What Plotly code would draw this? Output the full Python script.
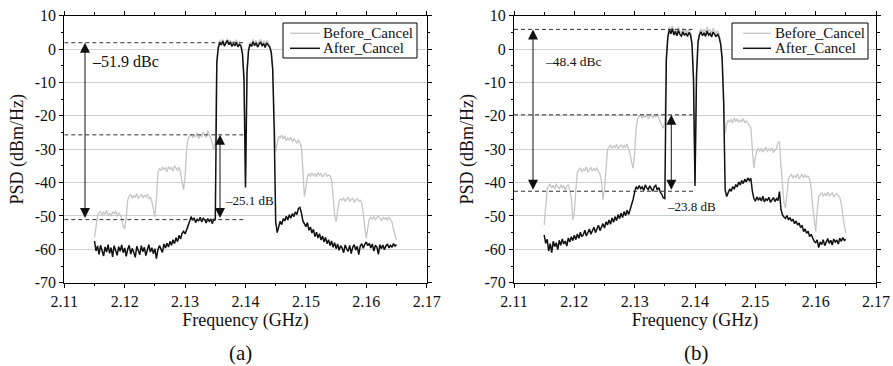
import numpy as np
import plotly.graph_objects as go

# ---------------- data ----------------
freq_ghz = np.round(np.linspace(2.115, 2.165, 201), 5).tolist()

before_a = [
    -56.5, -53.5, -50.2, -49.0, -48.6, -49.8, -48.9, -49.5, -48.3, -49.9, -49.1, -50.0, -48.7, -49.4, -48.4, -50.1, -49.0, -49.6, -50.8, -53.0,
    -54.0, -50.5, -45.2, -44.0, -43.6, -44.7, -43.9, -44.5, -43.3, -44.8, -44.0, -43.5, -44.6, -43.8, -44.3, -43.4, -44.9, -44.4, -45.8, -48.6,
    -50.2, -45.0, -37.2, -35.8, -36.4, -35.3, -36.1, -35.6, -36.8, -35.2, -36.0, -35.5, -36.6, -35.0, -35.9, -36.3, -35.4, -37.0, -40.0, -42.2,
    -38.0, -30.0, -26.8, -26.0, -25.4, -26.6, -25.8, -26.3, -25.1, -26.9, -25.7, -26.2, -24.8, -25.9, -26.5, -24.4, -25.6, -26.8, -28.0, -30.2,
    -28.0, -3.0, 1.2, 2.8, 1.6, 2.9, 1.5, 2.4, 3.0, 2.0, 2.6, 1.8, 2.3, 2.0, 2.8, 1.5, 2.2, 1.5, -1.0, -8.0,
    -40.5, -6.0, 0.2, 2.0, 1.6, 2.9, 1.8, 2.6, 1.4, 2.3, 2.9, 1.7, 2.5, 1.3, 2.6, 2.0, 1.2, -0.3, -5.0, -20.0,
    -30.7, -28.5, -26.2, -26.6, -25.8, -26.9, -26.1, -27.4, -26.7, -27.2, -26.4, -27.8, -26.9, -27.5, -28.1, -27.2, -28.3, -29.2, -36.0, -44.2,
    -41.5, -38.2, -37.4, -38.0, -37.1, -37.9, -37.4, -38.3, -37.0, -37.8, -37.3, -38.4, -37.6, -37.2, -38.1, -37.7, -38.0, -39.3, -44.0, -49.5,
    -51.7, -48.0, -45.5, -44.9, -45.3, -44.6, -45.6, -45.0, -44.4, -45.5, -45.1, -44.7, -45.8, -45.2, -44.8, -45.6, -45.3, -46.2, -49.0, -53.5,
    -56.7, -53.5, -51.0, -50.4, -50.9, -50.2, -51.1, -50.5, -50.0, -50.8, -51.3, -50.4, -50.9, -50.6, -51.2, -50.3, -51.0, -51.8, -54.0, -56.0, -57.2,
]

after_a = [
    -57.5, -60.5, -59.0, -61.5, -58.8, -60.2, -62.0, -59.3, -60.8, -58.6, -61.2, -59.5, -62.3, -58.9, -60.4, -61.8, -59.2, -60.6, -58.7, -61.0,
    -59.6, -62.1, -60.0, -58.8, -61.4, -59.7, -60.9, -62.4, -59.1, -60.3, -61.6, -58.9, -60.7, -59.4, -61.9, -60.2, -58.6, -60.8, -59.5, -61.3,
    -59.8, -62.8, -60.1, -58.9, -59.7, -60.9, -58.4, -59.6, -58.2, -59.3, -57.6, -58.8, -57.1, -58.3, -56.5, -57.7, -55.8, -56.9, -55.2, -54.6,
    -55.4, -53.8, -52.9, -51.6, -50.2, -51.3, -50.6, -52.0, -50.9, -51.5, -50.4, -51.8, -50.7, -51.2, -52.1, -50.8, -51.6, -50.9, -52.3, -51.0,
    -51.3, -4.0, 0.4, 1.9, 1.2, 2.4, 0.9, 1.7, 2.6, 1.3, 2.1, 0.8, 1.6, 1.1, 2.0, 0.7, 1.4, 0.9, -1.5, -9.0,
    -41.5, -7.0, -0.5, 1.5, 0.8, 2.2, 1.0, 1.9, 0.6, 1.5, 2.1, 0.9, 1.7, 0.5, 1.8, 1.2, 0.6, -0.8, -6.0, -24.0,
    -51.7, -55.0, -52.8, -51.6, -52.6, -50.8, -51.5, -50.1, -51.2, -49.6, -50.7, -49.3, -50.2, -48.8, -49.6, -47.8, -47.4, -49.0, -51.5, -52.4,
    -53.2, -52.0, -54.3, -53.3, -55.1, -54.0, -56.2, -54.9, -56.6, -55.3, -57.2, -56.0, -57.8, -56.4, -58.3, -57.1, -58.9, -57.5, -59.4, -58.0,
    -59.8, -58.4, -60.3, -58.9, -59.6, -61.0, -58.7, -59.9, -60.6, -58.8, -61.3, -59.4, -58.6, -60.2, -59.1, -61.6, -59.0, -58.3, -59.7, -58.5,
    -57.8, -58.9, -58.2, -59.6, -58.4, -60.5, -58.9, -59.3, -61.5, -58.6, -59.8, -58.7, -60.1, -59.0, -58.4, -59.6, -58.8, -59.4, -58.3, -59.0, -58.6,
]

before_b = [
    -52.7, -47.0, -42.0, -41.0, -40.5, -41.6, -40.8, -41.9, -40.4, -41.3, -42.0, -40.7, -41.5, -40.9, -42.2, -41.1, -40.6, -42.4, -44.5, -51.2,
    -49.0, -42.0, -37.0, -36.2, -35.6, -36.8, -35.9, -36.5, -35.3, -36.9, -36.0, -35.4, -36.6, -35.8, -36.3, -35.5, -36.7, -37.5, -39.5, -45.2,
    -42.0, -36.0, -30.0, -29.4, -28.7, -29.8, -29.0, -29.6, -28.5, -29.9, -29.1, -28.6, -29.7, -28.9, -29.5, -28.4, -30.0, -31.5, -34.0, -35.7,
    -31.0, -23.5, -20.8, -20.3, -19.6, -20.7, -19.9, -20.5, -19.3, -20.9, -20.0, -19.5, -20.6, -19.8, -20.4, -19.4, -20.8, -21.6, -22.8, -23.7,
    -22.0, -2.0, 4.5, 6.6, 5.4, 6.9, 5.0, 6.2, 5.1, 6.6, 5.3, 4.8, 6.2, 5.0, 5.8, 4.9, 6.0, 5.1, 2.5, -8.0,
    -40.0, -7.0, 3.0, 5.2, 6.1, 5.0, 5.9, 4.9, 6.7, 5.3, 5.8, 4.7, 6.2, 5.4, 4.8, 5.5, 4.5, 2.5, -2.0, -14.0,
    -25.2, -22.5, -21.3, -21.9, -21.0, -22.2, -20.6, -21.6, -21.0, -22.0, -21.2, -21.8, -20.8, -22.1, -21.5, -22.3, -22.8, -23.5, -30.0, -35.7,
    -32.5, -30.5, -29.8, -30.6, -29.7, -30.9, -30.0, -29.5, -30.7, -29.9, -30.4, -29.6, -31.0, -30.2, -29.7, -28.0, -27.7, -35.0, -42.0, -46.0,
    -47.7, -42.5, -38.8, -38.0, -37.6, -38.7, -37.9, -38.5, -37.3, -38.9, -38.0, -37.5, -38.6, -37.8, -38.4, -38.1, -39.0, -41.5, -47.0, -52.0,
    -54.7, -48.5, -44.2, -43.6, -43.0, -44.1, -43.4, -43.9, -42.8, -44.0, -43.5, -43.1, -44.2, -43.6, -43.3, -43.9, -44.5, -46.5, -50.0, -53.0, -55.0,
]

after_b = [
    -55.7, -58.2, -57.0, -60.5, -58.3, -61.0, -57.6, -59.2, -58.0, -60.1, -57.3, -58.8, -56.9, -58.4, -57.5, -59.0, -56.6, -57.8, -56.2, -57.4,
    -55.8, -57.1, -55.4, -56.7, -54.9, -56.2, -55.6, -54.3, -56.0, -54.8, -53.9, -55.5, -54.2, -53.4, -55.0, -53.7, -52.8, -54.4, -53.0, -52.3,
    -53.6, -51.8, -52.7, -51.2, -52.5, -50.6, -51.9, -50.2, -51.4, -49.6, -50.8, -49.2, -50.5, -48.7, -49.9, -48.3, -49.6, -48.0, -47.2, -45.0,
    -42.8, -41.2, -42.0, -40.9, -41.8, -41.3, -42.4, -40.7, -41.6, -42.1, -41.0, -41.9, -42.6, -41.2, -40.8, -42.2, -41.5, -42.9, -43.5, -44.6,
    -44.8, -3.0, 3.5, 5.8, 4.6, 6.1, 4.2, 5.3, 4.0, 5.6, 4.4, 3.9, 5.2, 4.1, 4.8, 3.8, 5.0, 4.3, 1.5, -9.0,
    -41.0, -8.0, 2.0, 4.3, 5.2, 4.0, 4.9, 3.8, 5.4, 4.2, 4.7, 3.6, 5.1, 4.4, 3.7, 4.6, 3.5, 1.5, -3.0, -16.0,
    -42.2, -44.2, -42.8, -41.9, -42.6, -41.2, -42.0, -40.6, -41.3, -39.8, -40.7, -39.4, -40.3, -39.0, -39.8, -38.6, -39.4, -38.7, -42.5, -44.7,
    -45.6, -44.3, -45.2, -44.6, -45.5, -44.1, -45.8, -44.9, -45.3, -44.4, -45.9, -45.0, -44.5, -45.7, -44.8, -45.4, -42.7, -48.0, -49.7, -50.3,
    -50.7, -49.9, -51.2, -50.5, -51.6, -51.0, -52.3, -51.5, -52.7, -52.1, -53.5, -52.8, -54.7, -53.9, -55.2, -54.6, -56.2, -55.5, -56.8, -57.6,
    -58.0, -57.2, -59.5, -57.8, -58.6, -57.1, -58.9, -57.5, -56.8, -58.2, -57.3, -58.7, -56.9, -57.8, -57.2, -58.4, -56.7, -57.6, -56.5, -57.3, -57.0,
]

series_names = ["Before_Cancel", "After_Cancel"]

# axis ticks
y_tick_vals = [10, 0, -10, -20, -30, -40, -50, -60, -70]
y_tick_text = ["10", "0", "-10", "-20", "-30", "-40", "-50", "-60", "-70"]
x_tick_vals = [2.11, 2.12, 2.13, 2.14, 2.15, 2.16, 2.17]
x_tick_text = ["2.11", "2.12", "2.13", "2.14", "2.15", "2.16", "2.17"]

# reference levels (dBm/Hz) marked with dashed lines: [carrier, before-ACP, after-ACP]
levels_a = [1.9, -25.7, -51.1]
levels_b = [5.9, -19.7, -42.6]
dash_end = [2.1396, 2.1396, 2.1400]
# arrow positions (GHz)
arrow_x_a = [2.11343, 2.13578]
arrow_x_b = [2.11315, 2.13607]
labels_a = ["\u201351.9 dBc", "\u201325.1 dB"]
labels_b = ["\u201348.4 dBc", "\u201323.8 dB"]

# ---------------- figure ----------------
FONT = "Liberation Serif"
GRAY = "#c6c6c6"
BLACK = "#111111"
W, H = 893, 366
COLORS = [GRAY, BLACK]
WIDTHS = [1.3, 1.5]

fig = go.Figure()
for xa, ya, series in [("x", "y", [before_a, after_a]), ("x2", "y2", [before_b, after_b])]:
    for name, vals, c, w in zip(series_names, series, COLORS, WIDTHS):
        fig.add_trace(go.Scatter(x=freq_ghz, y=vals, mode="lines", name=name,
                                 line=dict(color=c, width=w), xaxis=xa, yaxis=ya,
                                 showlegend=False))

ydom = [1 - 282.7 / H, 1 - 15.7 / H]
xdom1 = [64.3 / W, 426.7 / W]
xdom2 = [514 / W, 876 / W]

def xax(domain, anchor):
    return dict(domain=domain, anchor=anchor, range=[2.11, 2.17],
                tickmode="array", tickvals=x_tick_vals, ticktext=x_tick_text,
                showgrid=False, zeroline=False,
                showline=True, linecolor="black", linewidth=1, mirror="allticks",
                ticks="outside", ticklen=4, tickcolor="black",
                minor=dict(dtick=0.005, tick0=2.11, ticks="outside", ticklen=2.5, tickcolor="black", showgrid=False),
                tickfont=dict(family=FONT, size=16, color="#111"),
                title=dict(text="Frequency (GHz)", font=dict(family=FONT, size=18, color="#111"), standoff=4))

def yax(anchor):
    return dict(domain=ydom, anchor=anchor, range=[-70, 10],
                tickmode="array", tickvals=y_tick_vals, ticktext=y_tick_text,
                showgrid=True, gridcolor="#cfcfcf", gridwidth=1, zeroline=False,
                showline=True, linecolor="black", linewidth=1, mirror="allticks",
                ticks="outside", ticklen=4, tickcolor="black",
                minor=dict(dtick=5, tick0=-70, ticks="outside", ticklen=2.5, tickcolor="black", showgrid=False),
                tickfont=dict(family=FONT, size=16, color="#111"),
                title=dict(text="PSD (dBm/Hz)", font=dict(family=FONT, size=18, color="#111"), standoff=6))

shapes = []
annotations = []
for xr, yr, levels, ax_x, labels, lab_pos, lab_sizes in [
    ("x", "y", levels_a, arrow_x_a, labels_a, [(2.11425, -3.6), (2.13622, -45.3)], [16, 13]),
    ("x2", "y2", levels_b, arrow_x_b, labels_b, [(2.11481, -3.8), (2.13498, -47.1)], [13.5, 13]),
]:
    for lv, xe in zip(levels, dash_end):
        shapes.append(dict(type="line", xref=xr, yref=yr, x0=2.11, x1=xe, y0=lv, y1=lv,
                           line=dict(color="#333", width=1, dash="4px,3px")))
    # long arrow: carrier level to after-ACP level; short arrow: before-ACP to after-ACP
    for xa, top in [(ax_x[0], levels[0]), (ax_x[1], levels[1])]:
        annotations.append(dict(xref=xr, yref=yr, axref=xr, ayref=yr, x=xa, y=top, ax=xa, ay=levels[2],
                                text="", showarrow=True, arrowside="end+start", arrowhead=2,
                                startarrowhead=2, arrowsize=2, startarrowsize=2,
                                arrowwidth=1, arrowcolor=BLACK, standoff=0, startstandoff=0))
    for (tx, ty), t, s in zip(lab_pos, labels, lab_sizes):
        annotations.append(dict(xref=xr, yref=yr, x=tx, y=ty, text=t, showarrow=False,
                                xanchor="left", yanchor="middle",
                                font=dict(family=FONT, size=s, color="#111")))

# panel captions
for cx, t in [(240, "(a)"), (696, "(b)")]:
    annotations.append(dict(xref="paper", yref="paper", x=cx / W, y=1 - 353 / H, text=t,
                            showarrow=False, xanchor="center", yanchor="middle",
                            font=dict(family=FONT, size=21, color="#111")))

# legends (box, line sample, label), positioned in pixels
legend_boxes = [
    dict(box=(283, 23, 417, 58), line_x=(290, 320), text_x=321),
    dict(box=(732, 23, 868, 59), line_x=(743, 771), text_x=773),
]
entry_y = [33.3, 48.3]
px = lambda v: v / W
py = lambda v: 1 - v / H
for lg in legend_boxes:
    x0, y0, x1, y1 = lg["box"]
    shapes.append(dict(type="rect", xref="paper", yref="paper", x0=px(x0), x1=px(x1), y0=py(y1), y1=py(y0),
                       line=dict(color="black", width=1), fillcolor="white", layer="above"))
    for ey, name, c, w in zip(entry_y, series_names, COLORS, WIDTHS):
        shapes.append(dict(type="line", xref="paper", yref="paper", x0=px(lg["line_x"][0]), x1=px(lg["line_x"][1]),
                           y0=py(ey), y1=py(ey), line=dict(color=c, width=w), layer="above"))
        annotations.append(dict(xref="paper", yref="paper", x=px(lg["text_x"]), y=py(ey), text=name,
                                showarrow=False, xanchor="left", yanchor="middle",
                                font=dict(family=FONT, size=15, color="#111")))

fig.update_layout(
    template="none",
    width=W, height=H,
    margin=dict(l=0, r=0, t=0, b=0),
    paper_bgcolor="white", plot_bgcolor="white",
    font=dict(family=FONT, color="#111"),
    xaxis=xax(xdom1, "y"), yaxis=yax("x"),
    xaxis2=xax(xdom2, "y2"), yaxis2=yax("x2"),
    shapes=shapes, annotations=annotations,
    showlegend=False,
)

fig.write_html("out.html", config={"displayModeBar": False},
               post_script="document.body.style.margin='0';document.body.style.overflow='hidden';")
